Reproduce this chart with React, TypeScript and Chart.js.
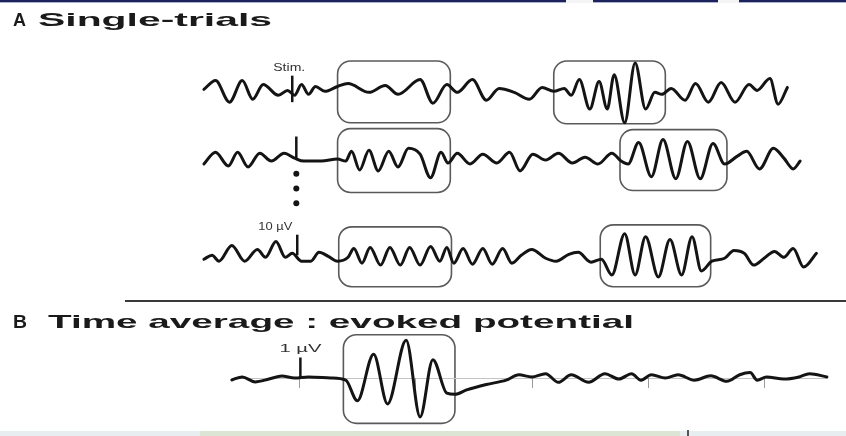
import React, { useEffect, useRef } from "react";
import { Chart, registerables } from "chart.js";
Chart.register(...registerables);

// ---- Data (time in ms relative to stimulus, amplitude in µV) ----
const trace1T = [-82,-72,-60,-49,-40,-31,-18,-10,-4,2,8,14,22,33,42,60,74,85,104,115,127,136,149,161,172,185,198,209,219,228,234,241,250,258,265,271,280,289,298,306,312,320,332,341,352,363,375,387,394,405,412,420];
const trace1V = [1.5,6,-5,6,-3.5,4,-1.5,1,-1.5,4,-1,3,0.5,3,4.5,0,3.5,-1,6.5,-5.5,4,0,6.5,-4,2,0,-3.5,2.5,0.5,2,-1.5,6.5,-8.5,5.5,-8.5,9,-15.5,15,-8.5,0,-1,2,-4,4.5,-5,5,-5,4,1,7,-6,2.5];

const trace2T = [-82,-72,-61,-53,-44,-34,-24,-13,-4,4,19,33,40,45,52,60,68,77,85,94,104,113,122,128,136,147,158,170,181,190,201,212,223,235,246,257,269,277,283,292,303,313,324,334,345,356,366,377,385,396,408,417,425,431];
const trace2V = [-3,3,-4,3,-4.5,2.5,-1.5,2.5,0,-1.5,-1.5,-0.5,-1.5,3.5,-6,4,-6.5,3.5,-4.5,5,2,-10,3,-2.5,2.5,-3,2,-2.5,3,-6.5,2,-1,2.5,-2.5,0.5,-3,2.5,-1.5,-3,8,-9.5,9.5,-10.5,8.5,-10.5,7.5,-3,1,3.5,-5.5,5,0,-5.5,-1.5];

const trace3T = [-82,-75,-69,-58,-47,-36,-29,-20,-12,-6,2,10,17,25,33,42,47,54,61,70,78,87,95,104,113,121,127,133,141,149,158,166,175,183,191,200,212,221,232,240,251,260,269,280,289,298,309,319,329,338,346,355,366,374,383,391,400,409,417,425,434,445];
const trace3V = [-1.5,0.5,-2.5,5.5,-2.5,3.5,-0.5,7.5,-0.5,1.5,-2.5,-2.5,2,0,-2.5,-0.5,4,-3.5,4.5,-4.5,4.5,-4.5,4.5,-4.5,5,-2.5,4.5,-3.5,4,-4,4,-4,4,-3.5,0.5,3.5,-1,-2.5,1,2,-3,-1.5,-9.5,11.5,-9.5,10,-10.5,8.5,-9.5,10,-7.5,-2.5,-1,3,1.5,-4.5,-1,2.5,-0.5,4,-5.5,1.5];

const avgT = [-58,-49,-38,-26,-15,-4,8,27,40,50,64,76,92,104,115,127,134,144,161,178,189,200,212,223,234,249,263,275,286,294,303,315,326,340,354,368,379,388,394,402,417,430,439,454];
const avgV = [-0.09,0.05,-0.18,-0.05,0.09,0,0.05,0,-0.1,-1.05,1.1,-1.2,1.75,-1.8,0.85,-0.7,-0.75,-0.55,-0.3,-0.1,0.15,0.05,0.2,-0.2,0.15,-0.2,0.2,-0.05,0.2,-0.1,0.15,0,0.15,-0.1,0.1,-0.15,0.15,0.25,-0.1,0.05,-0.05,0.05,0.2,0.05];

// stimulus / calibration bars (one per trace)
const barAxis = ["y1", "y2", "y3", "yB"];
const stimT = [-6, -2.5, -1.7, 1];
const barLow = [-5, 0, 0.5, 0];
const barHigh = [8.5, 11, 11, 0.95];
const barLabels = ["Stim.", "", "10 µV", "1 µV"];

// ellipsis dots between trial 2 and trial N
const dotT = -2.5;
const dotV = [-8, -15.5, -23];

// highlighted windows
const boxAxis = ["y1", "y1", "y2", "y2", "y3", "y3", "yB"];
const boxStart = [33, 219, 33, 276, 34, 259, 38];
const boxEnd = [130, 315, 130, 368, 131, 354, 134];
const boxHigh = [16, 16, 15, 14.5, 15, 16, 2.0];
const boxLow = [-15.5, -16, -17.5, -16.5, -15.5, -15.5, -2.1];

// time ticks of the averaged trace (ms)
const avgTicks = [0, 100, 200, 300, 400];

const headingA = ["A", "Single-trials"];
const headingB = ["B", "Time average : evoked potential"];

// ---- layout constants ----
const W = 846;
const H = 436;
const FONT = '"Liberation Sans", Arial, sans-serif';

function axisRange(basePx: number, pxPerUnit: number) {
  return { min: -(H - basePx) / pxPerUnit, max: basePx / pxPerUnit };
}

function fitText(ctx: CanvasRenderingContext2D, text: string, x: number, y: number, w: number, font: string, color: string) {
  ctx.save();
  ctx.font = font;
  const m = ctx.measureText(text).width;
  ctx.translate(x, y);
  ctx.scale(w / m, 1);
  ctx.fillStyle = color;
  ctx.textBaseline = "alphabetic";
  ctx.fillText(text, 0, 0);
  ctx.restore();
}

const deco = {
  id: "deco",
  beforeDraw(chart: any) {
    const { ctx } = chart;
    ctx.save();
    ctx.fillStyle = "#ffffff";
    ctx.fillRect(0, 0, W, H);
    // top frame line
    ctx.fillStyle = "#1d215c";
    ctx.fillRect(0, 0, W, 2);
    ctx.fillStyle = "#a9b3d2";
    ctx.fillRect(0, 2, W, 1);
    ctx.fillStyle = "#f4f4f4";
    ctx.fillRect(566, 0, 27, 3);
    ctx.fillRect(718, 0, 21, 3);
    // bottom band
    ctx.fillStyle = "#e8edf0";
    ctx.fillRect(0, H - 5, W, 5);
    ctx.fillStyle = "#dce4d4";
    ctx.fillRect(200, H - 5, 480, 5);
    ctx.fillStyle = "#555";
    ctx.fillRect(687, H - 6, 2, 6);
    // separator
    ctx.strokeStyle = "#3a3a3a";
    ctx.lineWidth = 2;
    ctx.beginPath();
    ctx.moveTo(125, 301);
    ctx.lineTo(W, 301);
    ctx.stroke();
    ctx.restore();
  },
  beforeDatasetsDraw(chart: any) {
    const { ctx, scales } = chart;
    const x = scales.x;
    ctx.save();
    // boxes
    ctx.strokeStyle = "#5a5a5a";
    ctx.lineWidth = 1.6;
    for (let i = 0; i < boxStart.length; i++) {
      const y = scales[boxAxis[i]];
      const x0 = x.getPixelForValue(boxStart[i]);
      const x1 = x.getPixelForValue(boxEnd[i]);
      const y0 = y.getPixelForValue(boxHigh[i]);
      const y1 = y.getPixelForValue(boxLow[i]);
      ctx.beginPath();
      ctx.roundRect(x0, y0, x1 - x0, y1 - y0, 13);
      ctx.stroke();
    }
    // time axis of the average
    const yb = scales.yB;
    const by = yb.getPixelForValue(0);
    ctx.strokeStyle = "#c4c4c4";
    ctx.lineWidth = 1;
    ctx.beginPath();
    ctx.moveTo(x.getPixelForValue(avgT[0]), by + 0.5);
    ctx.lineTo(x.getPixelForValue(avgT[avgT.length - 1]), by + 0.5);
    ctx.stroke();
    ctx.strokeStyle = "#9a9a9a";
    for (const t of avgTicks) {
      const px = Math.round(x.getPixelForValue(t)) + 0.5;
      ctx.beginPath();
      ctx.moveTo(px, by);
      ctx.lineTo(px, by + 10);
      ctx.stroke();
    }
    ctx.restore();
  },
  afterDatasetsDraw(chart: any) {
    const { ctx, scales } = chart;
    const x = scales.x;
    // headings
    const hf = `bold 19px ${FONT}`;
    fitText(ctx, headingA[0], 13, 26, 13, hf, "#1a1a1a");
    fitText(ctx, headingA[1], 38, 26, 234, hf, "#1a1a1a");
    fitText(ctx, headingB[0], 13, 328, 14, hf, "#1a1a1a");
    fitText(ctx, headingB[1], 48, 328, 586, hf, "#1a1a1a");
    // calibration labels
    const labelW = [32, 0, 34, 42];
    for (let i = 0; i < barLabels.length; i++) {
      if (!barLabels[i]) continue;
      const px = x.getPixelForValue(stimT[i]);
      const py = scales[barAxis[i]].getPixelForValue(barHigh[i]);
      let left = px - labelW[i] / 2 - 3;
      if (i === 2) left = px - labelW[i] - 5;
      if (i === 3) left = px - labelW[i] / 2;
      fitText(ctx, barLabels[i], left, py - 5, labelW[i], `10px ${FONT}`, "#333");
    }
  },
};

function traceDataset(t: number[], v: number[], axis: string) {
  return {
    type: "line" as const,
    data: t.map((tt, i) => ({ x: tt, y: v[i] })),
    yAxisID: axis,
    borderColor: "#141414",
    borderWidth: 3,
    pointRadius: 0,
    cubicInterpolationMode: "monotone" as const,
    borderCapStyle: "round" as const,
    borderJoinStyle: "round" as const,
    fill: false,
  };
}

export default function App() {
  const ref = useRef<HTMLCanvasElement>(null);
  useEffect(() => {
    document.body.style.margin = "0";
    const datasets: any[] = [
      traceDataset(trace1T, trace1V, "y1"),
      traceDataset(trace2T, trace2V, "y2"),
      traceDataset(trace3T, trace3V, "y3"),
      traceDataset(avgT, avgV, "yB"),
    ];
    for (let i = 0; i < stimT.length; i++) {
      datasets.push({
        type: "line",
        data: [
          { x: stimT[i], y: barLow[i] },
          { x: stimT[i], y: barHigh[i] },
        ],
        yAxisID: barAxis[i],
        borderColor: "#141414",
        borderWidth: 2.5,
        pointRadius: 0,
        tension: 0,
      });
    }
    datasets.push({
      type: "line",
      data: dotV.map((v) => ({ x: dotT, y: v })),
      yAxisID: "y2",
      showLine: false,
      pointRadius: 3,
      pointBackgroundColor: "#141414",
      pointBorderWidth: 0,
    });
    const r1 = axisRange(90, 2);
    const r2 = axisRange(157, 2);
    const r3 = axisRange(257, 2);
    const rB = axisRange(381, 22);
    const chart = new Chart(ref.current as HTMLCanvasElement, {
      type: "line",
      data: { datasets },
      options: {
        animation: false,
        responsive: false,
        devicePixelRatio: 1,
        events: [],
        layout: { padding: 0 },
        plugins: { legend: { display: false }, tooltip: { enabled: false } },
        scales: {
          x: { type: "linear", min: -254, max: 467, display: false },
          y1: { type: "linear", display: false, ...r1 },
          y2: { type: "linear", display: false, ...r2 },
          y3: { type: "linear", display: false, ...r3 },
          yB: { type: "linear", display: false, ...rB },
        },
      },
      plugins: [deco],
    } as any);
    return () => chart.destroy();
  }, []);
  return (
    <div style={{ position: "fixed", left: 0, top: 0, width: W, height: H, background: "#fff" }}>
      <canvas ref={ref} width={W} height={H} style={{ display: "block", width: W, height: H, filter: "blur(0.35px)" }} />
    </div>
  );
}
